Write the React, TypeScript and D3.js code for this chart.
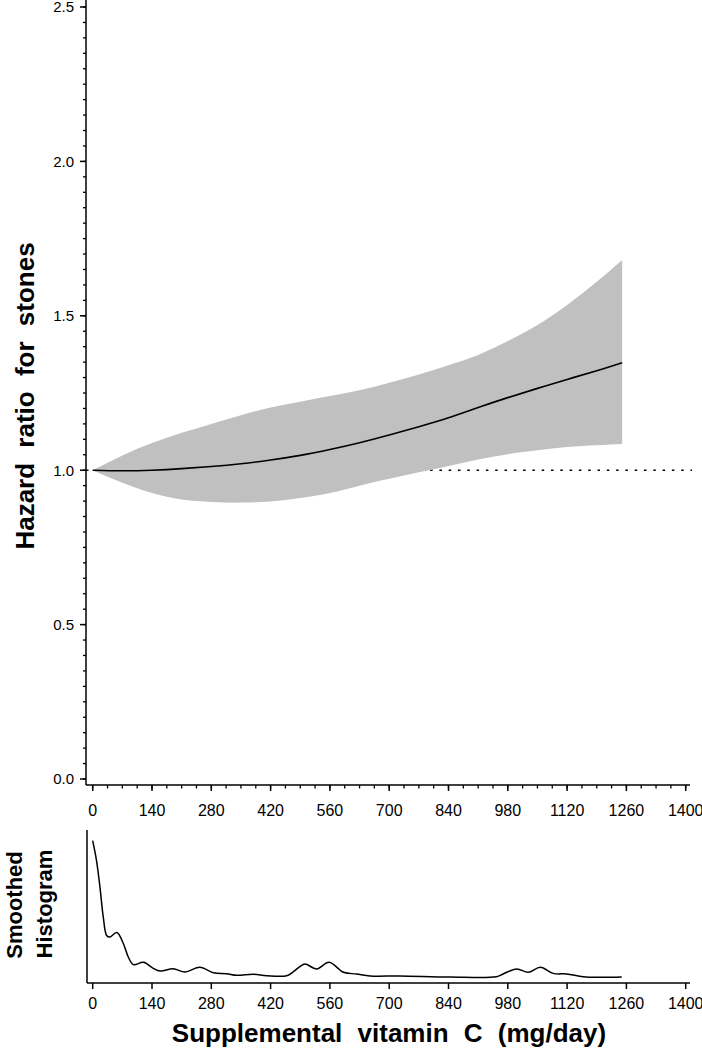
import React from "react";
import * as d3 from "d3";

// dose of supplemental vitamin C (mg/day) and fitted hazard ratio with 95% band
const doses = [0, 70, 140, 210, 280, 350, 420, 490, 560, 630, 700, 770, 840, 910, 980, 1050, 1120, 1190, 1250];
const hazard = [1.0, 0.998, 1.0, 1.005, 1.012, 1.021, 1.033, 1.048, 1.067, 1.089, 1.114, 1.141, 1.17, 1.203, 1.235, 1.265, 1.294, 1.322, 1.348];
const lower = [1.0, 0.959, 0.926, 0.905, 0.897, 0.895, 0.899, 0.91, 0.926, 0.95, 0.972, 0.993, 1.014, 1.035, 1.052, 1.065, 1.075, 1.081, 1.085];
const upper = [1.0, 1.048, 1.088, 1.121, 1.15, 1.178, 1.203, 1.222, 1.24, 1.259, 1.283, 1.31, 1.34, 1.373, 1.418, 1.47, 1.535, 1.61, 1.681];

// smoothed histogram of intake (relative density)
const histDose = [0, 9, 17, 25, 33, 40, 57, 72, 84, 96, 120, 143, 159, 190, 218, 253, 285, 316, 340, 379, 411, 458, 474, 489, 501, 529, 558, 592, 623, 655, 725, 844, 953, 969, 1001, 1028, 1057, 1087, 1119, 1158, 1197, 1249];
const histDensity = [0.93, 0.8, 0.63, 0.43, 0.31, 0.3, 0.33, 0.26, 0.17, 0.12, 0.135, 0.096, 0.078, 0.093, 0.072, 0.103, 0.067, 0.061, 0.05, 0.057, 0.048, 0.048, 0.074, 0.107, 0.124, 0.092, 0.135, 0.07, 0.059, 0.046, 0.046, 0.039, 0.041, 0.059, 0.092, 0.07, 0.103, 0.063, 0.059, 0.041, 0.037, 0.039];

const xTicks = [0, 140, 280, 420, 560, 700, 840, 980, 1120, 1260, 1400];
const yTicks = [0, 0.5, 1.0, 1.5, 2.0, 2.5];

const W = 702;
const H = 1050;
const font = "'Liberation Sans', Arial, Helvetica, sans-serif";

export default function App() {
  const x = d3.scaleLinear().domain([0, 1400]).range([92.7, 685.7]);
  const y = d3.scaleLinear().domain([0, 2.5]).range([779, 7]);
  const yh = d3.scaleLinear().domain([0, 1]).range([983, 830]);

  const axisX = 86;
  const mainBase = 785;
  const histBase = 983;

  const rows = doses.map((d, i) => ({ d, hr: hazard[i], lo: lower[i], hi: upper[i] }));
  const band = d3
    .area<any>()
    .x((r) => x(r.d))
    .y0((r) => y(r.lo))
    .y1((r) => y(r.hi))
    .curve(d3.curveNatural);
  const fit = d3
    .line<any>()
    .x((r) => x(r.d))
    .y((r) => y(r.hr))
    .curve(d3.curveNatural);
  const hist = d3
    .line<number>()
    .x((d) => x(d))
    .y((d, i) => yh(histDensity[i]))
    .curve(d3.curveCatmullRom.alpha(0.5));

  const yMinor = d3.range(0, 2.5001, 0.05).map((v) => +v.toFixed(2));
  const xMinor = d3.range(0, 1401, 35);

  return (
    <svg width={W} height={H} style={{ position: "absolute", left: 0, top: 0, background: "#fff" }} fontFamily={font}>
      {/* reference line at HR = 1 */}
      <line x1={axisX} x2={692} y1={y(1)} y2={y(1)} stroke="#000" strokeWidth={1.4} strokeDasharray="2.5,6.8" />
      <path d={band(rows) || ""} fill="#c0c0c0" />
      <path d={fit(rows) || ""} fill="none" stroke="#000" strokeWidth={1.6} />

      {/* main y axis */}
      <line x1={axisX} x2={axisX} y1={0} y2={mainBase} stroke="#000" strokeWidth={1.5} />
      {yMinor.map((v) => (
        <line key={"ym" + v} x1={axisX - 3} x2={axisX} y1={y(v)} y2={y(v)} stroke="#000" strokeWidth={1.3} />
      ))}
      {yTicks.map((v) => (
        <g key={"y" + v}>
          <line x1={axisX - 6} x2={axisX} y1={y(v)} y2={y(v)} stroke="#000" strokeWidth={1.5} />
          <text x={74} y={y(v)} dy="0.36em" textAnchor="end" fontSize={15}>
            {v.toFixed(1)}
          </text>
        </g>
      ))}
      <text transform="translate(34,396) rotate(-90)" textAnchor="middle" fontSize={26} fontWeight="bold" wordSpacing={8}>
        Hazard ratio for stones
      </text>

      {/* main x axis */}
      <line x1={axisX} x2={690} y1={mainBase} y2={mainBase} stroke="#000" strokeWidth={1.5} />
      {xMinor.map((v) => (
        <line key={"xm" + v} x1={x(v)} x2={x(v)} y1={mainBase} y2={mainBase + 3.5} stroke="#000" strokeWidth={1.3} />
      ))}
      {xTicks.map((v) => (
        <g key={"x" + v}>
          <line x1={x(v)} x2={x(v)} y1={mainBase} y2={mainBase + 6} stroke="#000" strokeWidth={1.5} />
          <text x={x(v)} y={816} textAnchor="middle" fontSize={16}>
            {v}
          </text>
        </g>
      ))}

      {/* smoothed histogram panel */}
      <path d={hist(histDose) || ""} fill="none" stroke="#000" strokeWidth={1.5} />
      <line x1={87} x2={87} y1={830} y2={histBase} stroke="#000" strokeWidth={1.5} />
      <line x1={87} x2={690} y1={histBase} y2={histBase} stroke="#000" strokeWidth={1.5} />
      {xTicks.map((v) => (
        <g key={"hx" + v}>
          <line x1={x(v)} x2={x(v)} y1={histBase} y2={histBase + 6} stroke="#000" strokeWidth={1.5} />
          <text x={x(v)} y={1009} textAnchor="middle" fontSize={16}>
            {v}
          </text>
        </g>
      ))}
      <text transform="translate(22,905) rotate(-90)" textAnchor="middle" fontSize={22} fontWeight="bold">
        Smoothed
      </text>
      <text transform="translate(52,904) rotate(-90)" textAnchor="middle" fontSize={22} fontWeight="bold">
        Histogram
      </text>
      <text x={389} y={1042} textAnchor="middle" fontSize={26} fontWeight="bold" wordSpacing={8}>
        Supplemental vitamin C (mg/day)
      </text>
    </svg>
  );
}
